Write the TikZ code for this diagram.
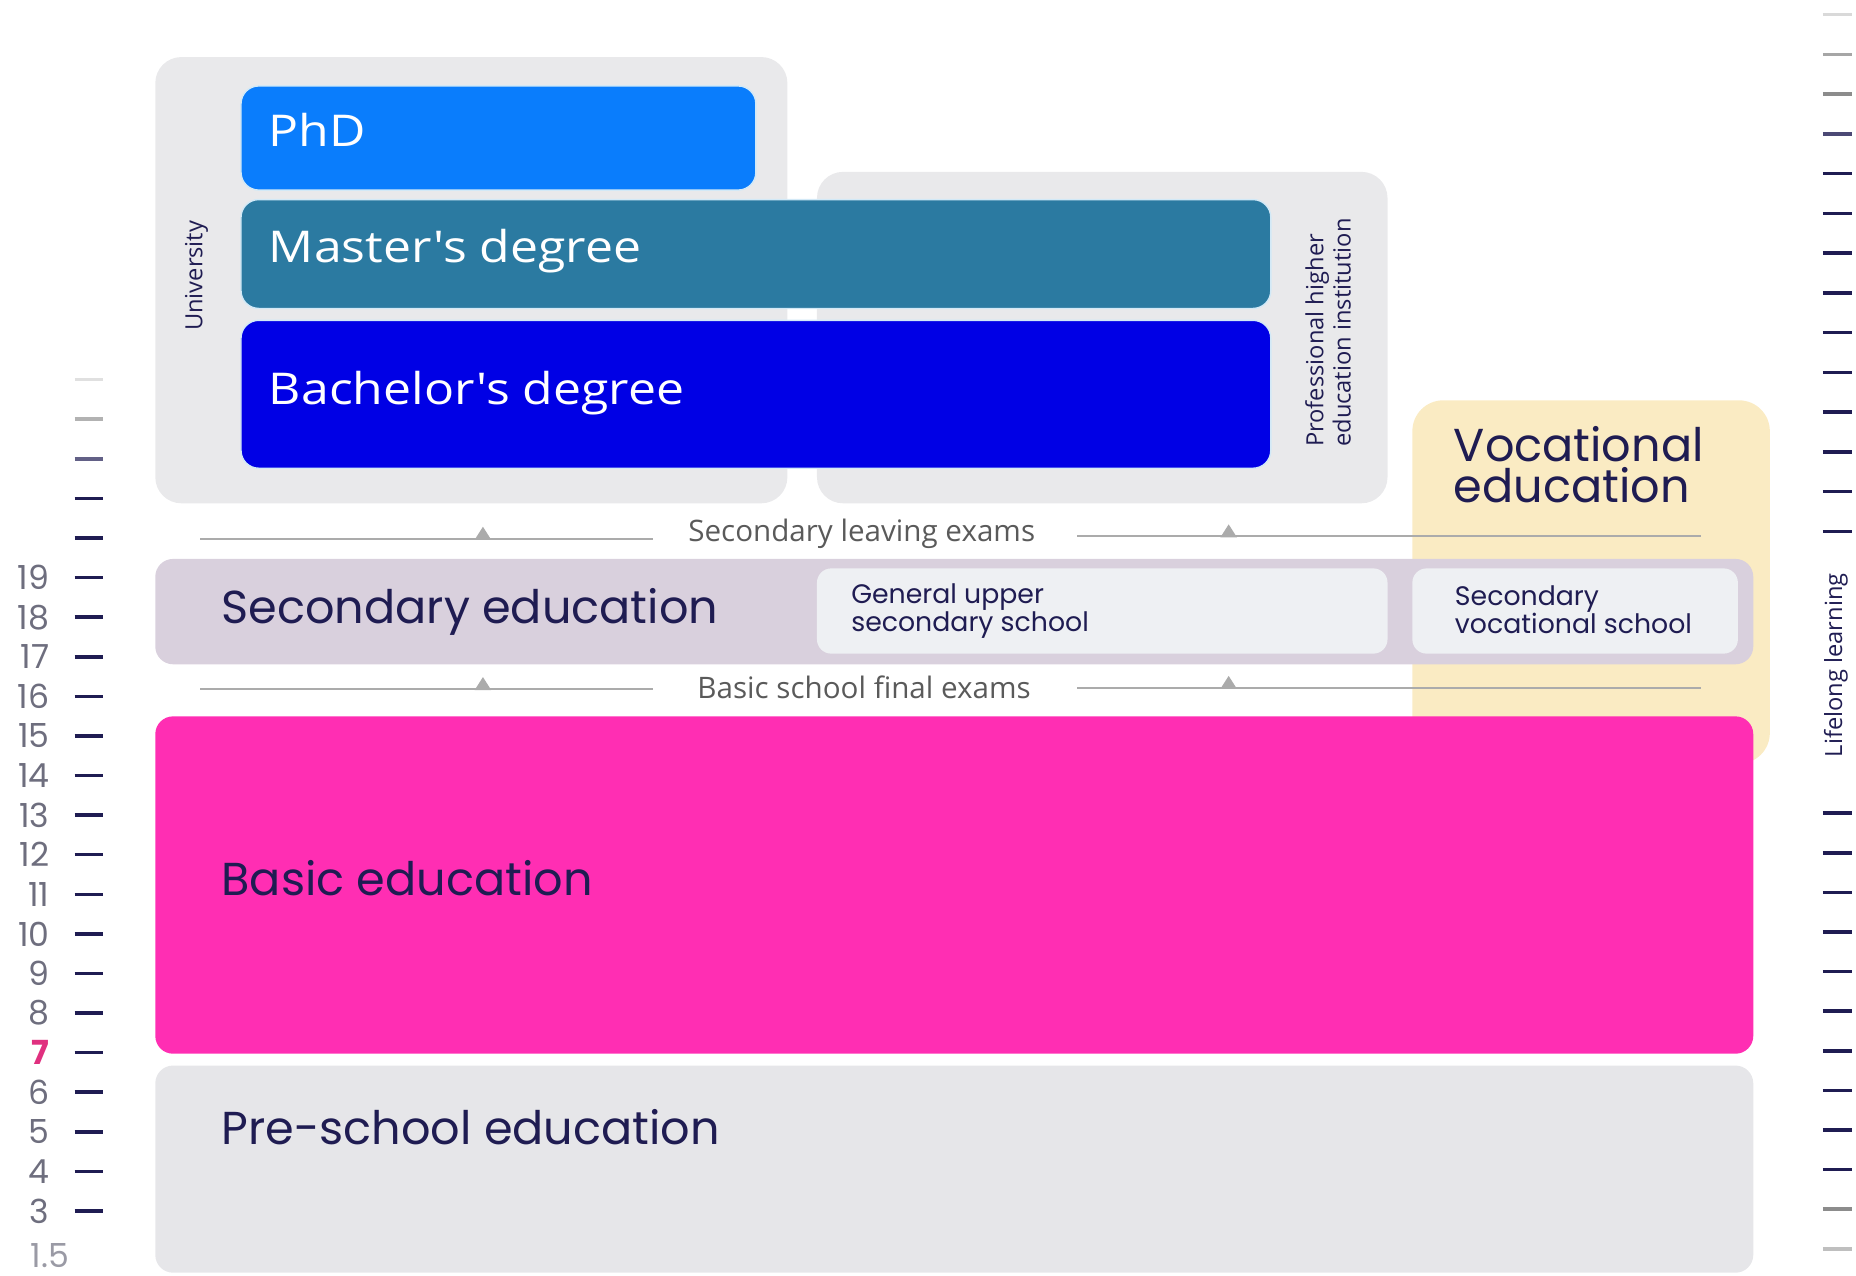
\documentclass[tikz,border=0pt]{standalone}
\usepackage{fontspec}
\newfontfamily\pop{Poppins}
\newfontfamily\osans{Open Sans}
\newfontfamily\osansw[FakeStretch=1.14]{Open Sans}
\definecolor{boxgray}{HTML}{E9E9EB}
\definecolor{phdc}{HTML}{0A7DFC}
\definecolor{mastc}{HTML}{2B7AA1}
\definecolor{bachc}{HTML}{0000E5}
\definecolor{vocc}{HTML}{FAEBC3}
\definecolor{secc}{HTML}{D9D0DD}
\definecolor{subc}{HTML}{EEF0F3}
\definecolor{basicc}{HTML}{FF2EB3}
\definecolor{prec}{HTML}{E6E6E9}
\definecolor{navy}{HTML}{1F1C52}
\definecolor{examline}{HTML}{ABABAB}
\definecolor{examtext}{HTML}{5A5A5A}
\definecolor{numc}{HTML}{6E6E7E}
\definecolor{pinkn}{HTML}{E0307F}
\definecolor{edgeblue}{HTML}{D2E9F7}
\begin{document}
\begin{tikzpicture}[x=1pt,y=-1pt,
  gbox/.style={fill=boxgray, rounded corners=22pt, anchor=north west, inner sep=0pt},
  deg/.style={rounded corners=15pt, draw=edgeblue, line width=1.2pt, anchor=north west, inner sep=0pt},
  band/.style={rounded corners=15pt, anchor=north west, inner sep=0pt},
  subbox/.style={fill=subc, rounded corners=12pt, anchor=north west, inner sep=0pt},
  wlbl/.style={anchor=west, inner sep=0pt, text=white, font=\osansw\fontsize{37}{40}\selectfont},
  nlbl/.style={anchor=west, inner sep=0pt, text=navy, font=\pop\fontsize{39}{40}\selectfont},
  slbl/.style={anchor=west, inner sep=0pt, text=navy, align=left, font=\pop\fontsize{22.6}{20}\selectfont},
  rlbl/.style={inner sep=0pt, text=navy, rotate=90, font=\osans\fontsize{20}{23}\selectfont},
  exam/.style={inner sep=0pt, text=examtext, font=\osans\fontsize{25}{27}\selectfont},
  exline/.style={draw=examline, line width=1.6pt},
  tick/.style={line width=3pt, draw=navy},
  num/.style={anchor=east, inner sep=0pt, text=numc, font=\pop\fontsize{28}{29}\selectfont}
]
\useasboundingbox (0,0) rectangle (1568,1078);

% vocational background
\node[band, fill=vocc, rounded corners=26pt, minimum width=302pt, minimum height=307pt] (voc) at (1193,338) {};
\node[nlbl, align=left, anchor=north west, font=\pop\fontsize{39}{35}\selectfont] (voct) at (1228,360) {Vocational\\education};

% university and professional boxes
\node[gbox, minimum width=534pt, minimum height=377pt] (uni) at (131,48) {};
\node[gbox, minimum width=482pt, minimum height=280pt] (prof) at (690,145) {};
\node[rlbl] (unit) at (166,233) {University};
\node[rlbl, align=left] (proft) at (1122,281) {Professional higher\\education institution};

% degrees
\node[deg, fill=phdc, minimum width=435pt, minimum height=88pt] (phd) at (203,72) {};
\node[deg, fill=mastc, minimum width=870pt, minimum height=92pt] (mast) at (203,168) {};
\node[deg, fill=bachc, minimum width=870pt, minimum height=125pt] (bach) at (203,270) {};
\node[wlbl] (phdt) at (227,110) {PhD};
\node[wlbl] (mastt) at (227,212) {Master's degree};
\node[wlbl] (bacht) at (227,332) {Bachelor's degree};

% secondary leaving exams
\node[exam] (sle) at (728,451) {Secondary leaving exams};
\coordinate (sl1) at (169,455); \coordinate (sl2) at (552,455);
\coordinate (sl3) at (910,453); \coordinate (sl4) at (1437,453);
\draw[exline] (sl1) -- (sl2);
\draw[exline] (sl3) -- (sl4);
\fill[examline] (401,456) -- (408,445) -- (415,456) -- cycle;
\fill[examline] (1031,454) -- (1038,443) -- (1045,454) -- cycle;

% secondary band
\node[band, fill=secc, minimum width=1350pt, minimum height=89pt] (sec) at (131,472) {};
\node[nlbl] (sect) at (187,517) {Secondary education};
\node[subbox, minimum width=482pt, minimum height=72pt] (gen) at (690,480) {};
\node[slbl] (gent) at (719,516) {General upper\\secondary school};
\node[subbox, minimum width=275pt, minimum height=72pt] (svs) at (1193,480) {};
\node[slbl] (svst) at (1229,515) {Secondary\\vocational school};

% basic school final exams
\node[exam] (bsf) at (730,581) {Basic school final exams};
\coordinate (bf1) at (169,582); \coordinate (bf2) at (552,582);
\coordinate (bf3) at (910,581); \coordinate (bf4) at (1437,581);
\draw[exline] (bf1) -- (bf2);
\draw[exline] (bf3) -- (bf4);
\fill[examline] (401,583) -- (408,572) -- (415,583) -- cycle;
\fill[examline] (1031,582) -- (1038,571) -- (1045,582) -- cycle;

% basic education
\node[band, fill=basicc, minimum width=1350pt, minimum height=285pt] (basic) at (131,605) {};
\node[nlbl] (basict) at (187,742) {Basic education};

% pre-school
\node[band, fill=prec, minimum width=1350pt, minimum height=175pt] (pre) at (131,900) {};
\node[nlbl] (pret) at (187,952) {Pre-school education};

% left scale
\foreach \yy/\cc in {320.8/black!12, 354.2/black!30, 387.7/navy!70, 421.1/navy, 454.6/navy}
  \draw[tick, draw=\cc] (63,\yy) -- (87,\yy);
\foreach \n [count=\i from 0] in {19,18,17,16,15,14,13,12,11,10,9,8,7,6,5,4,3}{
  \pgfmathsetmacro{\yy}{488+33.44*\i}
  \draw[tick] (63,\yy) -- (87,\yy);
  \ifnum\n=7
    \node[num, text=pinkn, font=\pop\bfseries\fontsize{28}{29}\selectfont] (n\n) at (42,\yy) {\n};
  \else
    \node[num] (n\n) at (42,\yy) {\n};
  \fi
}
\node[inner sep=0pt, text=numc!70, font=\pop\fontsize{28}{29}\selectfont] (n15h) at (42,1061) {1.5};

% right scale
\foreach \i/\cc in {0/black!15, 1/black!35, 2/black!45, 3/navy!80, 4/navy, 5/navy, 6/navy, 7/navy, 8/navy, 9/navy, 10/navy, 11/navy, 12/navy, 13/navy}{
  \pgfmathsetmacro{\yy}{12.4+33.58*\i}
  \draw[tick, draw=\cc] (1540,\yy) -- (1565,\yy);
}
\foreach \i/\cc in {0/navy, 1/navy, 2/navy, 3/navy, 4/navy, 5/navy, 6/navy, 7/navy, 8/navy, 9/navy, 10/black!45, 11/black!25}{
  \pgfmathsetmacro{\yy}{687+33.45*\i}
  \draw[tick, draw=\cc] (1540,\yy) -- (1565,\yy);
}
\node[rlbl] (life) at (1551,562) {Lifelong learning};
\end{tikzpicture}
\end{document}
